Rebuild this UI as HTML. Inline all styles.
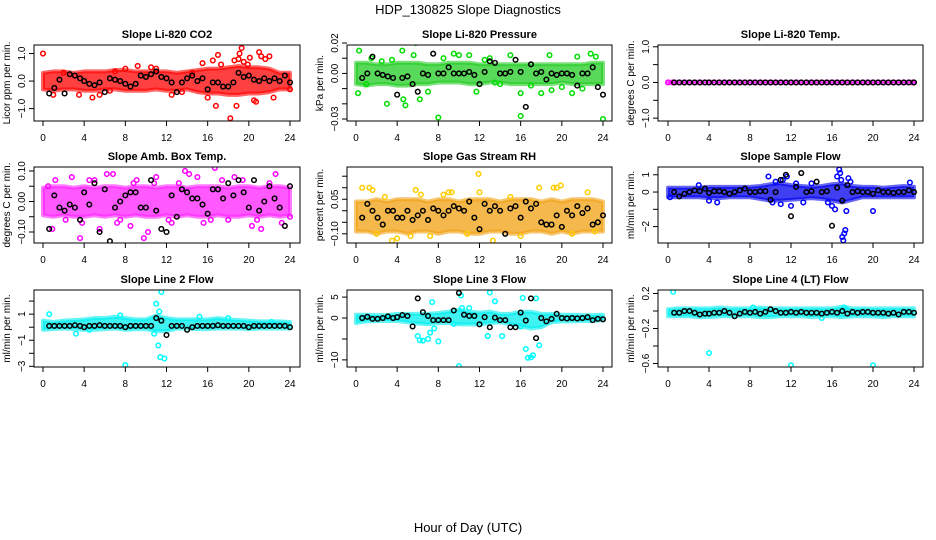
<!DOCTYPE html>
<html><head><meta charset="utf-8"><style>
body{margin:0;background:#fff;}
svg{display:block;font-family:"Liberation Sans",sans-serif;}
</style></head><body>
<svg id="chart" width="936" height="540" viewBox="0 0 936 540" xmlns="http://www.w3.org/2000/svg">
<text x="468" y="14" text-anchor="middle" font-size="13">HDP_130825  Slope Diagnostics</text>
<text x="468" y="532" text-anchor="middle" font-size="13">Hour of Day (UTC)</text>
</svg>
<script>
const xTicks=[0,4,8,12,16,20,24];
const bandHours=[0,1,2,3,4,5,6,7,8,9,10,11,12,13,14,15,16,17,18,19,20,21,22,23,24];
const blackHours=[0.6,1.1,1.6,2.1,2.6,3.1,3.6,4.0,4.5,5.0,5.5,6.0,6.5,7.0,7.5,8.0,8.5,9.0,9.5,10.0,10.5,11.0,11.5,12.0,12.5,13.0,13.5,14.0,14.5,15.0,15.5,16.0,16.5,17.0,17.5,18.0,18.5,19.0,19.5,20.0,20.5,21.0,21.5,22.0,22.5,23.0,23.5,24.0];

const co2Lo=[-0.3,-0.35,-0.3,-0.3,-0.35,-0.35,-0.3,-0.3,-0.35,-0.35,-0.35,-0.3,-0.35,-0.35,-0.3,-0.4,-0.45,-0.45,-0.5,-0.5,-0.45,-0.45,-0.4,-0.3,-0.3];
const co2Hi=[0.3,0.35,0.35,0.3,0.35,0.35,0.35,0.4,0.4,0.35,0.35,0.35,0.35,0.3,0.35,0.4,0.45,0.45,0.5,0.55,0.5,0.5,0.45,0.3,0.3];
const co2X=[0,4.8,9.2,15.5,16,16.5,16.8,17,17.3,18.2,18.6,18.8,19,19.1,19.3,19.5,19.9,20.1,20.5,20.7,21,21.2,21.6,22,22.4,24,2,3.5,5.5,7,8,10.5,11,12.5,13.5,14.5,6.5,1];
const co2Y=[1.0,-0.6,0.55,0.65,-0.6,0.75,-0.9,0.95,0.6,-1.35,0.75,-0.9,0.8,1.0,1.2,0.7,0.6,0.85,-0.7,-0.75,1.05,0.9,0.8,0.9,-0.6,-0.3,0.3,-0.5,-0.5,0.35,0.45,0.5,0.45,-0.5,-0.4,0.3,-0.35,-0.5];
const co2Black=[-0.45,-0.25,0.05,-0.45,0.25,0.2,0.1,0.0,-0.1,-0.15,-0.05,-0.4,0.1,0.05,0.0,-0.1,-0.2,-0.1,0.2,0.15,0.25,0.35,0.15,0.1,-0.05,-0.4,-0.05,0.1,0.2,0.0,0.1,-0.3,-0.05,-0.05,-0.2,-0.2,-0.05,0.3,0.15,0.2,0.05,0.0,0.1,0.0,0.1,0.0,0.2,-0.05];

const presLo=[-0.007,-0.008,-0.007,-0.007,-0.008,-0.008,-0.007,-0.007,-0.006,-0.006,-0.006,-0.007,-0.007,-0.006,-0.006,-0.007,-0.007,-0.007,-0.007,-0.007,-0.006,-0.007,-0.007,-0.007,-0.007];
const presHi=[0.007,0.007,0.006,0.006,0.007,0.007,0.007,0.006,0.006,0.007,0.007,0.007,0.006,0.006,0.006,0.006,0.006,0.006,0.006,0.006,0.006,0.006,0.006,0.007,0.007];
const presX=[0.3,0.2,1.5,3,3.5,4.5,4.6,5.8,5.6,4.8,6.2,8,8.5,9.5,10,11,11.7,13,15,16,16,17,18.8,19,21.5,21,22.8,23.3,24,1,7,14,18,20,22,2.5,12.5,13.5];
const presY=[0.015,-0.013,0.01,-0.02,0.009,0.015,-0.017,0.02,0.012,-0.021,-0.017,-0.029,0.01,0.013,0.012,0.012,-0.012,0.01,0.012,-0.013,-0.028,-0.008,0.012,-0.011,0.011,-0.013,0.013,0.011,-0.03,-0.007,-0.012,-0.007,-0.013,-0.009,-0.01,0.008,0.009,-0.006];
const presBlack=[-0.003,0,0.011,0,-0.001,-0.002,-0.003,-0.014,-0.003,-0.002,-0.007,-0.012,0,-0.001,0.013,0,0,0.004,0,0,0,0.001,-0.001,-0.007,0.001,0.008,0.007,0,0,0.001,0.009,0.001,-0.022,0.006,0,0.001,-0.004,0,-0.001,0,0,-0.001,-0.008,0,0,0.004,-0.009,-0.014];

const tempLo=[-0.02,-0.02,-0.02,-0.02,-0.02,-0.02,-0.02,-0.02,-0.02,-0.02,-0.02,-0.02,-0.02,-0.02,-0.02,-0.02,-0.02,-0.02,-0.02,-0.02,-0.02,-0.02,-0.02,-0.02,-0.02];
const tempHi=[0.02,0.02,0.02,0.02,0.02,0.02,0.02,0.02,0.02,0.02,0.02,0.02,0.02,0.02,0.02,0.02,0.02,0.02,0.02,0.02,0.02,0.02,0.02,0.02,0.02];
const tempX=[0,0.5,23.9];
const tempY=[0,0,0];
const tempBlack=[0,0,0,0,0,0,0,0,0,0,0,0,0,0,0,0,0,0,0,0,0,0,0,0,0,0,0,0,0,0,0,0,0,0,0,0,0,0,0,0,0,0,0,0,0,0,0,0];

const ambLo=[-0.045,-0.05,-0.045,-0.05,-0.05,-0.045,-0.05,-0.045,-0.05,-0.045,-0.05,-0.05,-0.045,-0.05,-0.045,-0.05,-0.05,-0.045,-0.05,-0.05,-0.045,-0.05,-0.045,-0.05,-0.045];
const ambHi=[0.045,0.05,0.05,0.045,0.05,0.045,0.05,0.05,0.045,0.05,0.05,0.045,0.05,0.05,0.045,0.05,0.05,0.05,0.045,0.05,0.05,0.045,0.05,0.05,0.045];
const ambX=[0.9,1.2,2.8,3.6,4.5,5.5,6.2,6.8,7.5,8.5,9.1,9.8,10.2,11,12.5,13.8,14.2,15,16.3,16.7,18,18.6,19.4,20.3,21.2,22.6,23.2,24,0.5,2.2,3.8,5,7.2,8.8,10.8,12.2,13.2,15.6,17.4,20.8,22];
const ambY=[-0.09,0.07,0.08,-0.12,0.07,-0.09,0.09,0.09,-0.06,-0.08,0.07,-0.12,-0.1,0.08,-0.07,0.1,0.09,0.08,-0.06,0.11,-0.06,0.08,0.07,-0.08,-0.09,0.09,-0.07,-0.05,0.05,-0.06,-0.07,0.07,-0.07,0.06,0.06,-0.06,0.06,-0.07,0.07,-0.06,0.06];
const ambBlack=[-0.09,0.02,-0.02,-0.03,-0.01,-0.02,-0.06,0.03,-0.01,0.06,-0.1,0.04,-0.13,-0.02,0.0,0.02,0.03,0.03,-0.02,-0.02,0.07,-0.03,-0.09,-0.1,0.02,-0.05,0.04,0.03,0.01,0.01,-0.01,-0.04,0.04,0.04,0.01,0.06,0.02,0.07,0.03,-0.02,0.07,-0.03,0.0,0.05,0.01,-0.02,-0.08,0.05];

const rhLo=[-0.09,-0.09,-0.1,-0.09,-0.09,-0.1,-0.09,-0.09,-0.1,-0.09,-0.09,-0.1,-0.1,-0.09,-0.09,-0.1,-0.1,-0.09,-0.09,-0.1,-0.09,-0.1,-0.09,-0.09,-0.09];
const rhHi=[0.04,0.04,0.05,0.04,0.05,0.05,0.05,0.04,0.05,0.05,0.04,0.05,0.05,0.05,0.04,0.05,0.05,0.05,0.04,0.05,0.04,0.05,0.05,0.05,0.04];
const rhX=[0.6,1.3,1.6,3.5,4.0,5.3,5.8,7.2,8.5,9.3,11.9,12,13.3,17.8,19.2,19.5,19.9,22.5,23.2,2,6.3,10.8,16,15,21,2.8,9];
const rhY=[0.1,0.1,0.09,-0.13,-0.12,-0.11,0.09,-0.11,0.07,0.08,0.16,0.08,-0.13,0.1,0.1,0.1,0.11,0.08,-0.09,-0.1,0.07,-0.1,-0.11,0.06,-0.1,0.06,0.08];
const rhBlack=[-0.03,0.03,0.0,-0.03,-0.06,0.0,0.0,-0.03,-0.03,0.0,-0.04,-0.02,0.0,-0.04,0.01,0.0,-0.02,0.0,0.02,0.01,0.0,0.04,-0.03,-0.08,0.03,0.0,0.02,0.0,-0.1,0.01,0.02,-0.03,0.04,0.01,0.03,-0.05,-0.06,-0.06,-0.02,-0.07,0.0,-0.02,0.02,-0.01,0.01,-0.06,-0.05,-0.02];

const flowLo=[-0.3,-0.3,-0.3,-0.3,-0.35,-0.35,-0.3,-0.3,-0.3,-0.4,-0.5,-0.5,-0.45,-0.4,-0.35,-0.4,-0.5,-0.6,-0.45,-0.3,-0.3,-0.3,-0.3,-0.3,-0.3];
const flowHi=[0.25,0.25,0.25,0.25,0.3,0.3,0.3,0.3,0.3,0.35,0.45,0.5,0.4,0.35,0.3,0.35,0.45,0.5,0.35,0.3,0.3,0.25,0.3,0.35,0.3];
const flowX=[9.8,10.2,10.5,11,11.2,11.6,12,12.5,13.2,14,15.6,16,16.3,16.5,16.7,16.8,16.9,17,17.1,17.2,17.3,17.4,17.6,17.8,20,23.6,0.2,4,4.8,3];
const flowY=[0.9,-0.6,0.6,-0.7,0.7,0.9,-0.8,0.5,-0.6,0.5,-0.6,-0.8,-1.0,0.9,1.3,1.1,0.7,-2.6,-2.8,-2.4,-2.2,-1.1,0.8,0.6,-1.1,0.55,-0.3,-0.5,-0.6,0.4];
const flowBlack=[0,-0.25,-0.1,0,0.1,0.05,0.2,-0.05,0.05,0.05,0,-0.1,0,0.1,0.2,0,0,0.05,0.05,-0.45,0,0.7,1.0,-1.4,0.3,1.1,0,0.05,0.6,0,0.05,-1.95,0.25,-0.5,0.4,0,0.05,0,0,-0.1,0.1,0,0,-0.05,0,0,0.1,0];

const l2Lo=[-0.2,-0.15,-0.1,-0.15,-0.2,-0.2,-0.15,-0.1,-0.2,-0.15,-0.15,-0.3,-0.3,-0.1,-0.1,-0.15,-0.15,-0.1,-0.1,-0.1,-0.15,-0.1,-0.1,-0.1,-0.1];
const l2Hi=[0.5,0.4,0.5,0.55,0.6,0.7,0.7,0.8,0.7,0.6,0.6,0.9,0.7,0.6,0.6,0.6,0.6,0.7,0.6,0.55,0.5,0.45,0.45,0.45,0.4];
const l2X=[0.6,11,11.3,11.5,11.4,11.8,10.8,11.2,8,3.2,4.5,7.5,15.2,18,22.2];
const l2Y=[1.0,1.8,1.2,2.7,-2.3,-2.4,-0.5,-1.4,-2.9,-0.5,-0.2,0.9,0.8,0.7,0.4];
const l2Black=[0.1,0.1,0.1,0.1,0.1,0.15,0.1,0.0,0.1,0.1,0.15,0.1,0.1,0.1,0.1,0.0,0.1,0.1,0.1,0.1,0.1,0.7,0.5,-0.6,0.1,0.1,0.1,-0.2,0.0,0.1,0.1,0.1,0.1,0.15,0.1,0.1,0.1,0.1,0.1,0.0,0.1,0.1,0.1,0.1,0.1,0.1,0.1,0.0];

const l3Lo=[-1.2,-0.8,-0.7,-0.7,-0.7,-1,-1.3,-1.5,-1.2,-1.2,-1.5,-1.5,-1.5,-1.2,-1,-1.5,-2,-2.5,-2.2,-1,-0.8,-0.8,-0.7,-0.7,-0.5];
const l3Hi=[0.8,0.8,0.7,0.7,1,1,1,1,1.2,1.5,2,1.5,1.3,1.5,1,1,1.5,1.5,1,1,0.8,0.8,0.7,0.7,0.8];
const l3X=[6,6.2,6.5,7,7.4,7.2,8,9.5,10,10.2,10.3,12.8,13,13.5,14.2,16,16.5,16.7,17,17.2,17.5,17.8,16.2,7.6,3.2,11];
const l3Y=[-4.3,-5.3,-5.4,-5,3.8,-3.5,-5.6,-1.4,-11.5,5.4,2.4,-4.3,6.1,4,-4.3,-2,-7.4,-9.5,-9.4,-8.9,4.7,-6.5,4.8,-2.5,0.3,2.4];
const l3Black=[0,0.3,-0.2,-0.2,0,0.4,0,0.2,0.7,0.5,-2.0,4.7,1.4,0.5,-0.5,-0.5,-0.5,-0.5,1.8,6.0,0.8,0.5,0.5,-1.5,0.2,-2.2,0.1,-0.5,-0.5,-2.2,-2.2,1.3,-0.6,4.7,-4.8,0,-0.8,-0.2,1.0,0,-0.1,0,-0.1,0,0.2,-0.5,-0.2,-0.3];

const l4Lo=[-0.06,-0.06,-0.06,-0.07,-0.07,-0.06,-0.06,-0.06,-0.06,-0.07,-0.07,-0.06,-0.06,-0.06,-0.07,-0.06,-0.06,-0.07,-0.06,-0.06,-0.06,-0.07,-0.06,-0.06,-0.06];
const l4Hi=[0.02,0.03,0.03,0.03,0.03,0.04,0.03,0.03,0.03,0.04,0.03,0.03,0.03,0.03,0.03,0.03,0.03,0.05,0.03,0.03,0.03,0.03,0.03,0.03,0.03];
const l4X=[0.5,4,12,20,17.2,8.3,15];
const l4Y=[0.22,-0.48,-0.62,-0.62,0.04,0.04,-0.08];
const l4Black=[-0.02,-0.02,0,0,-0.02,-0.04,-0.03,-0.03,-0.02,-0.02,0,-0.02,-0.06,-0.03,-0.01,-0.02,-0.01,-0.03,-0.01,0.02,0,-0.02,-0.02,-0.01,-0.02,-0.01,-0.02,-0.02,-0.02,-0.03,-0.02,-0.01,-0.02,0,-0.03,-0.01,-0.02,-0.01,-0.01,-0.02,-0.02,-0.02,-0.03,-0.02,-0.04,-0.01,-0.01,-0.02];

const NS='http://www.w3.org/2000/svg';
const svg=document.getElementById('chart');
function mk(tag,attrs,parent){const e=document.createElementNS(NS,tag);for(const k in attrs)e.setAttribute(k,attrs[k]);(parent||svg).appendChild(e);return e;}

const cols=[{l:34,r:300,x0:43,x24:290},{l:347,r:612,x0:356,x24:603},{l:658,r:923,x0:668,x24:914}];
const rows=[{t:45,b:121},{t:167,b:243},{t:290,b:367}];

function panel(key,title,ylab,ci,ri,yTop,yBot,ticks,labels,color,fill,lo,hi,xs,ys,black){
  const c=cols[ci],r=rows[ri];
  const g=mk('g',{});
  
  
  const X=h=>c.x0+(c.x24-c.x0)*h/24;
  const Y=v=>r.t+(r.b-r.t)*(yTop-v)/(yTop-yBot);
  const cp='clip-'+key;
  const cl=mk('clipPath',{id:cp},g);mk('rect',{x:c.l,y:r.t,width:c.r-c.l,height:r.b-r.t},cl);
  const dg=mk('g',{'clip-path':'url(#'+cp+')'},g);
  let pts=bandHours.map((h,i)=>X(h)+','+Y(hi[i]));
  for(let i=bandHours.length-1;i>=0;i--)pts.push(X(bandHours[i])+','+Y(lo[i]));
  const band=mk('polygon',{points:pts.join(' '),fill:fill,'fill-opacity':0.75,stroke:fill,'stroke-opacity':0.6,'stroke-width':4,'stroke-linejoin':'round'},dg);
  
  
  xs.forEach((h,i)=>{
    const p=mk('circle',{cx:X(h),cy:Y(ys[i]),r:2.3,fill:'none',stroke:color,'stroke-width':1.5},dg);
    
    
  });
  black.forEach((v,i)=>{
    const p=mk('circle',{cx:X(blackHours[i]),cy:Y(v),r:2.3,fill:'none',stroke:'#000','stroke-width':1.5},dg);
    
    
  });
  mk('rect',{x:c.l,y:r.t,width:c.r-c.l,height:r.b-r.t,fill:'none',stroke:'#000','stroke-width':1},g);
  const t=mk('text',{x:(c.l+c.r)/2,y:r.t-7,'text-anchor':'middle','font-size':11,'font-weight':'bold'},g);
  t.textContent=title;
  
  
  xTicks.forEach(h=>{
    mk('line',{x1:X(h),x2:X(h),y1:r.b,y2:r.b+5,stroke:'#000'},g);
    const tl=mk('text',{x:X(h),y:r.b+20,'text-anchor':'middle','font-size':10},g);
    tl.textContent=h;
    
    
  });
  ticks.forEach((v,i)=>{
    mk('line',{x1:c.l-5,x2:c.l,y1:Y(v),y2:Y(v),stroke:'#000'},g);
    if(labels[i]!==''){
      const tl=mk('text',{x:0,y:0,'text-anchor':'middle','font-size':10,transform:`translate(${c.l-9},${Y(v)}) rotate(-90)`},g);
      tl.textContent=labels[i];
      
      
    }
  });
  const yl=mk('text',{x:0,y:0,'text-anchor':'middle','font-size':10,transform:`translate(${c.l-24},${(r.t+r.b)/2}) rotate(-90)`},g);
  yl.textContent=ylab;
  
  
}

panel('co2','Slope Li-820 CO2','Licor ppm per min.',0,0,1.31,-1.45,[-1,0,1],['\u22121.0','0.0','1.0'],'#ff0000','#ff0000',co2Lo,co2Hi,co2X,co2Y,co2Black);
panel('pressure','Slope Li-820 Pressure','kPa per min.',1,0,0.0187,-0.0313,[-0.03,-0.02,-0.01,0,0.01,0.02],['\u22120.03','','','0.00','','0.02'],'#00dd00','#22cc22',presLo,presHi,presX,presY,presBlack);
panel('temp','Slope Li-820 Temp.','degrees C per min.',2,0,1.05,-1.08,[-1,-0.5,0,0.5,1],['\u22121.0','','0.0','','1.0'],'#ff00ff','#ff00ff',tempLo,tempHi,tempX,tempY,tempBlack);
panel('amb-box','Slope Amb. Box Temp.','degrees C per min.',0,1,0.113,-0.136,[-0.1,-0.05,0,0.05,0.1],['\u22120.10','','0.00','','0.10'],'#ff00ff','#ff22ff',ambLo,ambHi,ambX,ambY,ambBlack);
panel('gas-rh','Slope Gas Stream RH','percent per min.',1,1,0.19,-0.14,[-0.1,-0.05,0,0.05,0.1,0.15],['\u22120.10','','','0.05','',''],'#ffcc00','#f0a010',rhLo,rhHi,rhX,rhY,rhBlack);
panel('sample-flow','Slope Sample Flow','ml/min per min.',2,1,1.45,-2.95,[-2,-1,0,1],['\u22122','','0','1'],'#0000ff','#0000ee',flowLo,flowHi,flowX,flowY,flowBlack);
panel('line2-flow','Slope Line 2 Flow','ml/min per min.',0,2,2.85,-3.05,[-3,-2,-1,0,1,2],['\u22123','','\u22121','','1',''],'#00ffff','#00eeee',l2Lo,l2Hi,l2X,l2Y,l2Black);
panel('line3-flow','Slope Line 3 Flow','ml/min per min.',1,2,6.7,-11.7,[-10,-5,0,5],['\u221210','','0','5'],'#00ffff','#00eeee',l3Lo,l3Hi,l3X,l3Y,l3Black);
panel('line4-flow','Slope Line 4 (LT) Flow','ml/min per min.',2,2,0.24,-0.64,[-0.6,-0.4,-0.2,0,0.2],['\u22120.6','','\u22120.2','','0.2'],'#00ffff','#00eeee',l4Lo,l4Hi,l4X,l4Y,l4Black);
</script>
</body></html>
